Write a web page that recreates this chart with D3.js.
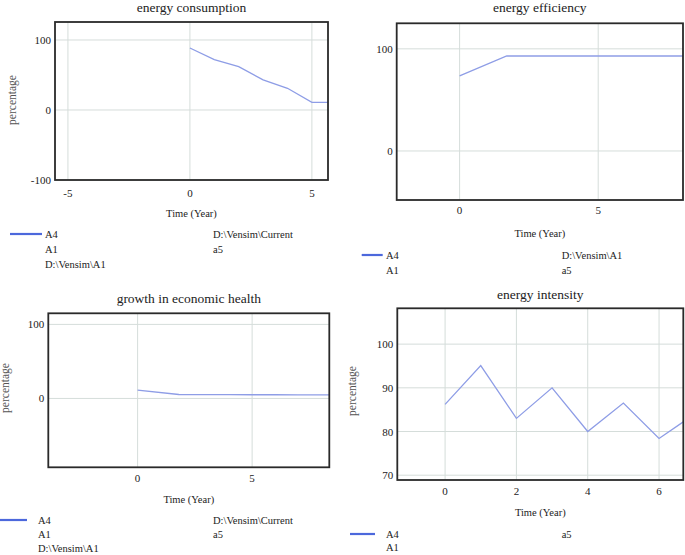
<!DOCTYPE html>
<html>
<head>
<meta charset="utf-8">
<script src="https://cdn.jsdelivr.net/npm/d3@7/dist/d3.min.js"></script>
<style>
  html, body { margin: 0; padding: 0; background: #fff; }
</style>
</head>
<body>
<svg id="chart" width="685" height="555" font-family="'Liberation Serif', 'Times New Roman', 'DejaVu Serif', serif"></svg>
<script>
// ---------- data ----------
const consumptionTime   = [0, 1, 2, 3, 4, 5, 6, 7, 8];
const consumptionValues = [88.6, 72, 62, 43, 31, 11, 11, 11, 11];
const consumptionXTicks = [-5, 0, 5];
const consumptionYTicks = [-100, 0, 100];

const efficiencyTime   = [0, 1.7, 2, 3, 4, 5, 6, 7, 8, 9];
const efficiencyValues = [73.5, 93, 93, 93, 93, 93, 93, 93, 93, 93];
const efficiencyXTicks = [0, 5];
const efficiencyYTicks = [0, 100];

const growthTime   = [0, 1.8, 3, 4, 5, 6, 7, 8, 9];
const growthValues = [11.2, 5.3, 5.2, 5.1, 5, 5, 4.9, 4.8, 4.8];
const growthXTicks = [0, 5];
const growthYTicks = [0, 100];

const intensityTime   = [0, 1, 2, 3, 4, 5, 6, 7];
const intensityValues = [86.2, 95.1, 83, 90, 80, 86.5, 78.4, 84];
const intensityXTicks = [0, 2, 4, 6];
const intensityYTicks = [70, 80, 90, 100];

const titles = ["energy consumption", "energy efficiency", "growth in economic health", "energy intensity"];
const xAxisLabel = "Time (Year)";
const yAxisLabel = "percentage";

const legendConsumption = ["A4", "A1", "D:\\Vensim\\A1", "D:\\Vensim\\Current", "a5"];
const legendEfficiency  = ["A4", "A1", "D:\\Vensim\\A1", "a5"];
const legendGrowth      = ["A4", "A1", "D:\\Vensim\\A1", "D:\\Vensim\\Current", "a5"];
const legendIntensity   = ["A4", "A1", "a5"];

// ---------- layout ----------
const svg = d3.select("#chart");
const FONT = "'Liberation Serif', 'Times New Roman', 'DejaVu Serif', serif";
const lineColor = "#8e9de6";
const legendColor = "#4c68dc";
const gridColor = "#d5ddda";
const textColor = "#222";

const panels = [
  { title: titles[0], time: consumptionTime, values: consumptionValues,
    xTicks: consumptionXTicks, yTicks: consumptionYTicks,
    box: [55, 22, 328, 180], xDom: [-5.53, 5.66], yDom: [-100, 125.7],
    titleY: 12, tickY: 197, xLabY: 217,
    yLab: { x: 16, y: 100, show: true },
    legend: { items: legendConsumption, lineX: [10, 42], lineY: 234, colA: 45, colB: 213, y0: 238, dy: 15,
              colAItems: [0, 1, 2], colBItems: [3, 4] } },
  { title: titles[1], time: efficiencyTime, values: efficiencyValues,
    xTicks: efficiencyXTicks, yTicks: efficiencyYTicks,
    box: [396.7, 23.3, 683, 200], xDom: [-2.27, 8.06], yDom: [-48, 125],
    titleY: 12, tickY: 214, xLabY: 237,
    yLab: { show: false },
    legend: { items: legendEfficiency, lineX: [361.7, 382.7], lineY: 255, colA: 386, colB: 561.7, y0: 259, dy: 15,
              colAItems: [0, 1], colBItems: [2, 3] } },
  { title: titles[2], time: growthTime, values: growthValues,
    xTicks: growthXTicks, yTicks: growthYTicks,
    box: [48.3, 313.3, 329.3, 467.3], xDom: [-3.9, 8.37], yDom: [-93, 115],
    titleY: 303, tickY: 482, xLabY: 503,
    yLab: { x: 9, y: 388, show: true },
    legend: { items: legendGrowth, lineX: [0, 27], lineY: 520, colA: 38, colB: 213, y0: 524, dy: 14,
              colAItems: [0, 1, 2], colBItems: [3, 4] } },
  { title: titles[3], time: intensityTime, values: intensityValues,
    xTicks: intensityXTicks, yTicks: intensityYTicks,
    box: [397.3, 308.3, 683.3, 480], xDom: [-1.34, 6.68], yDom: [68.9, 108.2],
    titleY: 299, tickY: 495, xLabY: 516,
    yLab: { x: 356, y: 391, show: true },
    legend: { items: legendIntensity, lineX: [350, 375], lineY: 534, colA: 386, colB: 561.7, y0: 538, dy: 13,
              colAItems: [0, 1], colBItems: [2] } }
];

function txt(g) {
  return g.append("text").attr("font-family", FONT).attr("fill", textColor);
}

panels.forEach((p, i) => {
  const [x0, y0, x1, y1] = p.box;
  const x = d3.scaleLinear().domain(p.xDom).range([x0, x1]);
  const y = d3.scaleLinear().domain(p.yDom).range([y1, y0]);
  const g = svg.append("g");

  // title
  txt(g).attr("x", (x0 + x1) / 2).attr("y", p.titleY)
    .attr("text-anchor", "middle").attr("font-size", 13.5).text(p.title);

  // grid
  g.selectAll(".vg").data(p.xTicks).join("line")
    .attr("x1", d => x(d)).attr("x2", d => x(d)).attr("y1", y0).attr("y2", y1)
    .attr("stroke", gridColor).attr("stroke-width", 1);
  g.selectAll(".hg").data(p.yTicks).join("line")
    .attr("x1", x0).attr("x2", x1).attr("y1", d => y(d)).attr("y2", d => y(d))
    .attr("stroke", gridColor).attr("stroke-width", 1);

  // clip
  const cid = "clip" + i;
  svg.append("clipPath").attr("id", cid).append("rect")
    .attr("x", x0).attr("y", y0).attr("width", x1 - x0).attr("height", y1 - y0);

  // data line
  const line = d3.line().x((d, k) => x(p.time[k])).y(d => y(d));
  g.append("path").datum(p.values).attr("d", line)
    .attr("fill", "none").attr("stroke", lineColor).attr("stroke-width", 1.3)
    .attr("clip-path", `url(#${cid})`);

  // box
  g.append("rect").attr("x", x0).attr("y", y0).attr("width", x1 - x0).attr("height", y1 - y0)
    .attr("fill", "none").attr("stroke", "#2a2a2a").attr("stroke-width", 1.8);

  // tick labels
  p.xTicks.forEach(d => {
    txt(g).attr("x", x(d)).attr("y", p.tickY).attr("text-anchor", "middle")
      .attr("font-size", 11).text(d);
  });
  p.yTicks.forEach(d => {
    txt(g).attr("x", x0 - 4).attr("y", y(d) + 4).attr("text-anchor", "end")
      .attr("font-size", 11).text(d);
  });

  // axis labels
  txt(g).attr("x", (x0 + x1) / 2).attr("y", p.xLabY).attr("text-anchor", "middle")
    .attr("font-size", 10.5).text(xAxisLabel);
  if (p.yLab.show) {
    txt(g).attr("transform", `translate(${p.yLab.x},${p.yLab.y}) rotate(-90)`)
      .attr("text-anchor", "middle").attr("font-size", 11.5).attr("fill", "#555").text(yAxisLabel);
  }

  // legend
  const L = p.legend;
  g.append("line").attr("x1", L.lineX[0]).attr("x2", L.lineX[1]).attr("y1", L.lineY).attr("y2", L.lineY)
    .attr("stroke", legendColor).attr("stroke-width", 2.2);
  L.colAItems.forEach((k, j) => {
    txt(g).attr("x", L.colA).attr("y", L.y0 + j * L.dy).attr("font-size", 10.5).text(L.items[k]);
  });
  L.colBItems.forEach((k, j) => {
    txt(g).attr("x", L.colB).attr("y", L.y0 + j * L.dy).attr("font-size", 10.5).text(L.items[k]);
  });
});
</script>
</body>
</html>
